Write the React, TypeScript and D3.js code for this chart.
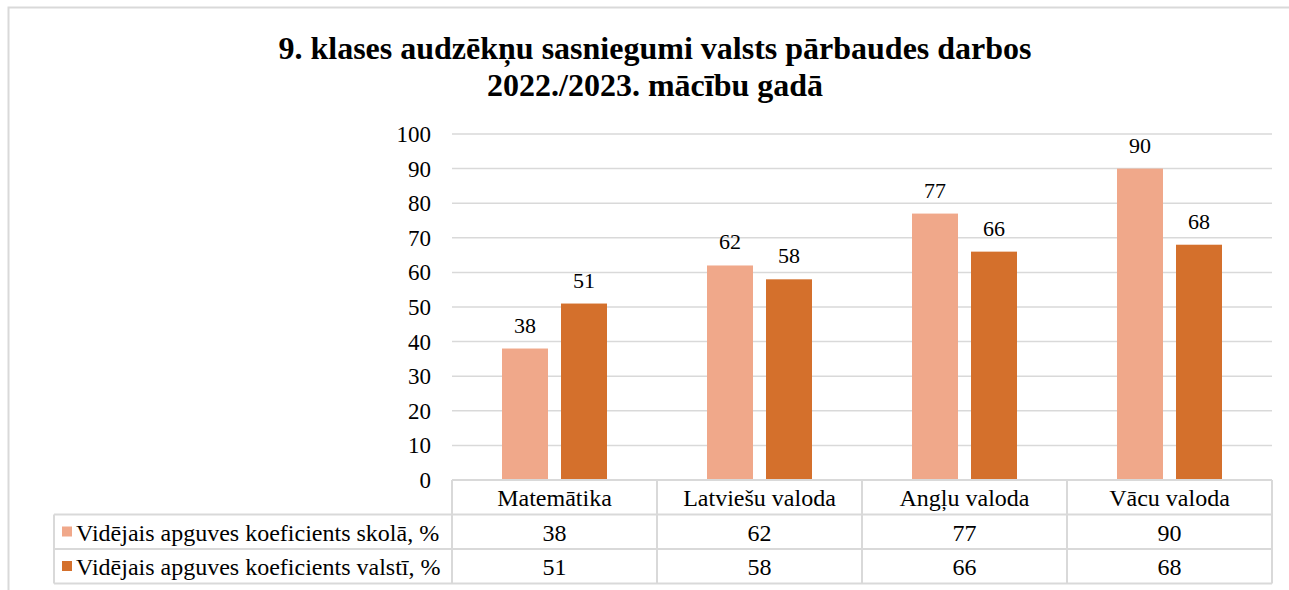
import React from "react";
import * as d3 from "d3";

const categories = ["Matemātika", "Latviešu valoda", "Angļu valoda", "Vācu valoda"];
const seriesNames = [
  "Vidējais apguves koeficients skolā, %",
  "Vidējais apguves koeficients valstī, %",
];
const schoolValues = [38, 62, 77, 90];
const stateValues = [51, 58, 66, 68];
const yTicks = [0, 10, 20, 30, 40, 50, 60, 70, 80, 90, 100];
const titleLines = [
  "9. klases audzēkņu sasniegumi valsts pārbaudes darbos",
  "2022./2023. mācību gadā",
];

const colors = ["#F0A88A", "#D4702C"];
const grid = "#d9d9d9";
const font = '"Liberation Serif", "Times New Roman", serif';

export default function App() {
  const W = 1289;
  const H = 590;
  const plotLeft = 452;
  const plotRight = 1272;
  const plotTop = 134;
  const plotBottom = 480;
  const rowH = 34.5;
  const tableLeft = 54;

  const x = d3.scaleBand<string>().domain(categories).range([plotLeft, plotRight]);
  const y = d3.scaleLinear().domain([0, 100]).range([plotBottom, plotTop]);

  const barW = 46;
  const gap = 13;
  const groupW = barW * 2 + gap;
  const series = [schoolValues, stateValues];

  const rowTops = [plotBottom, plotBottom + rowH, plotBottom + 2 * rowH];
  const tableBottom = plotBottom + 3 * rowH;
  const txt = { fontFamily: font };

  return (
    <svg
      width={W}
      height={H}
      style={{ position: "absolute", left: 0, top: 0, background: "#fff", fontFamily: font }}
    >
      <rect x={8.5} y={7.5} width={W} height={H} fill="#fff" stroke={grid} strokeWidth={2} />

      {/* title */}
      {titleLines.map((t, i) => (
        <text
          key={i}
          x={655}
          y={59 + i * 37}
          textAnchor="middle"
          fontSize={32}
          fontWeight="bold"
          fill="#000"
          style={txt}
        >
          {t}
        </text>
      ))}

      {/* gridlines + y ticks */}
      {yTicks.map((t) => (
        <g key={t}>
          {t > 0 && (
            <line x1={plotLeft} x2={plotRight} y1={y(t)} y2={y(t)} stroke={grid} strokeWidth={1.5} />
          )}
          <text x={431} y={y(t) + 8} textAnchor="end" fontSize={23} fill="#000" style={txt}>
            {t}
          </text>
        </g>
      ))}

      {/* bars */}
      {categories.map((c, ci) => {
        const x0 = (x(c) ?? 0) + (x.bandwidth() - groupW) / 2;
        return series.map((vals, si) => {
          const bx = x0 + si * (barW + gap);
          const v = vals[ci];
          return (
            <g key={c + si}>
              <rect x={bx} y={y(v)} width={barW} height={plotBottom - y(v)} fill={colors[si]} />
              <text
                x={bx + barW / 2}
                y={y(v) - 16}
                textAnchor="middle"
                fontSize={22}
                fill="#000"
                style={txt}
              >
                {v}
              </text>
            </g>
          );
        });
      })}

      {/* data table */}
      <g stroke={grid} strokeWidth={2} fill="none">
        <line x1={plotLeft} x2={plotRight} y1={plotBottom} y2={plotBottom} />
        <line x1={tableLeft} x2={plotRight} y1={rowTops[1]} y2={rowTops[1]} />
        <line x1={tableLeft} x2={plotRight} y1={rowTops[2]} y2={rowTops[2]} />
        <line x1={tableLeft} x2={plotRight} y1={tableBottom} y2={tableBottom} />
        <line x1={tableLeft} x2={tableLeft} y1={rowTops[1]} y2={tableBottom} />
        {categories.map((c) => (
          <line key={c} x1={x(c)} x2={x(c)} y1={plotBottom} y2={tableBottom} />
        ))}
        <line x1={plotRight} x2={plotRight} y1={plotBottom} y2={tableBottom} />
      </g>

      {categories.map((c) => (
        <text
          key={c}
          x={(x(c) ?? 0) + x.bandwidth() / 2}
          y={rowTops[0] + 26}
          textAnchor="middle"
          fontSize={24}
          fill="#000"
          style={txt}
        >
          {c}
        </text>
      ))}

      {series.map((vals, si) => (
        <g key={si}>
          <rect x={62} y={rowTops[si + 1] + 12} width={10} height={10} fill={colors[si]} />
          <text x={76} y={rowTops[si + 1] + 26} fontSize={24} fill="#000" style={txt}>
            {seriesNames[si]}
          </text>
          {vals.map((v, ci) => (
            <text
              key={ci}
              x={(x(categories[ci]) ?? 0) + x.bandwidth() / 2}
              y={rowTops[si + 1] + 26}
              textAnchor="middle"
              fontSize={24}
              fill="#000"
              style={txt}
            >
              {v}
            </text>
          ))}
        </g>
      ))}
    </svg>
  );
}
